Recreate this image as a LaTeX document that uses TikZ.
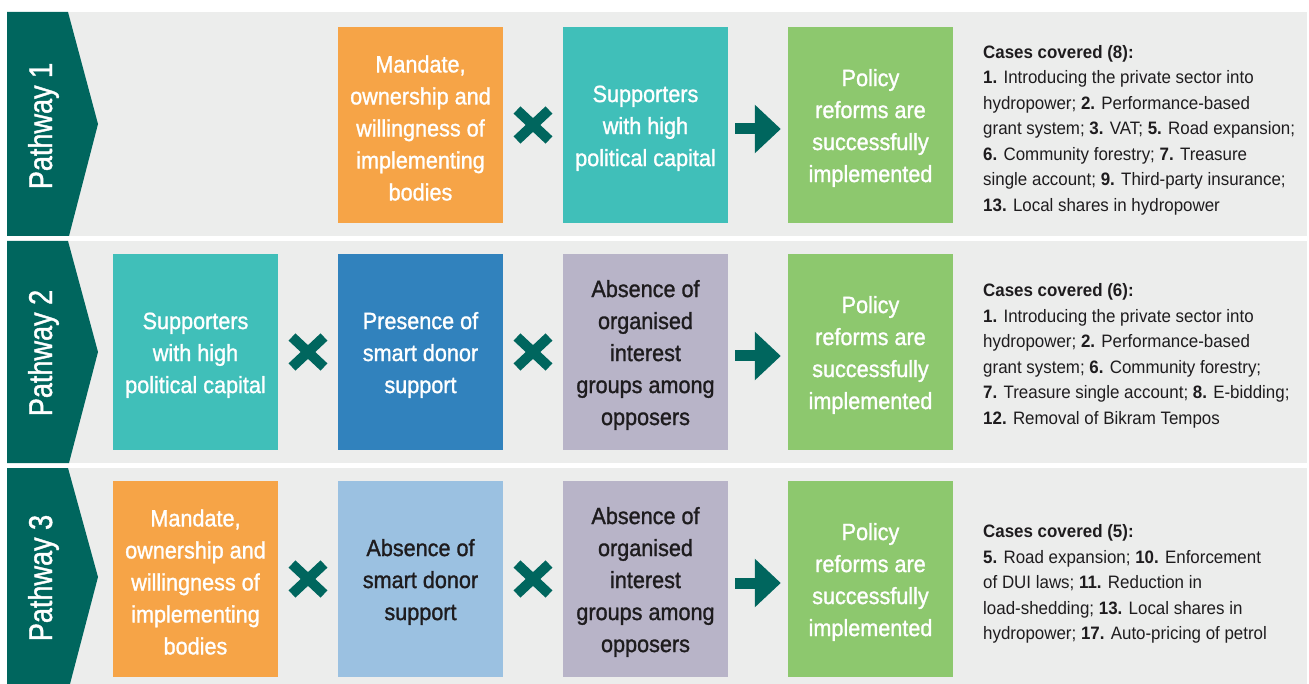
\documentclass[tikz,border=0pt]{standalone}
\usepackage{fontspec}
\setmainfont{Liberation Sans}[FakeStretch=0.94]
\newfontfamily\boxfont{Liberation Sans}[FakeStretch=0.92,FakeBold=1.2]
\newfontfamily\tabfont{Liberation Sans}[FakeStretch=0.82,FakeBold=1.2]
\usetikzlibrary{arrows.meta,calc}
\definecolor{bandgray}{RGB}{236,237,236}
\definecolor{darkteal}{RGB}{0,102,94}
\definecolor{boxorange}{RGB}{246,164,71}
\definecolor{boxteal}{RGB}{64,191,185}
\definecolor{boxgreen}{RGB}{141,200,110}
\definecolor{boxblue}{RGB}{49,130,189}
\definecolor{boxlightblue}{RGB}{155,193,225}
\definecolor{boxpurple}{RGB}{184,180,200}
\definecolor{textdark}{RGB}{30,28,30}
\newcommand{\boxtop}{\rule{0pt}{23pt}}
\tikzset{timesmark/.pic={\draw[darkteal,line width=10pt](-16,-15)--(16,15)(-16,15)--(16,-15);}}
\begin{document}
\begin{tikzpicture}[x=1pt,y=-1pt,
  box/.style={minimum width=165pt,minimum height=196pt,inner sep=0pt,align=center,text=white,font=\boxfont\fontsize{23.5}{32}\selectfont},
  tablabel/.style={anchor=base,rotate=90,inner sep=0pt,text=white,font=\tabfont\fontsize{33}{33}\selectfont},
  cases/.style={anchor=west,align=left,inner sep=0pt,text=textdark,font=\fontsize{18}{25.5}\selectfont},
  go/.style={draw=darkteal,line width=11pt,-{Triangle[width=47pt,length=26pt]},shorten <=7pt,shorten >=7pt}]
\useasboundingbox(0,0)rectangle(1309,684);
% bands and tabs
\fill[bandgray](7,12)rectangle(1307,236);
\fill[bandgray](7,241)rectangle(1307,463);
\fill[bandgray](7,468)rectangle(1307,684);
\fill[darkteal](7,12)--(68,12)--(98,124)--(69,236)--(7,236)--cycle;
\fill[darkteal](7,241)--(68,241)--(98,352)--(69,463)--(7,463)--cycle;
\fill[darkteal](7,468)--(68,468)--(98,577)--(70,684)--(7,684)--cycle;
\node[tablabel](t1) at (52,126){Pathway 1};
\node[tablabel](t2) at (52,353){Pathway 2};
\node[tablabel](t3) at (52,578){Pathway 3};
% pathway 1
\node[box,fill=boxorange](m1) at (420.5,125){\boxtop Mandate,\\ownership and\\willingness of\\implementing\\bodies};
\node[box,fill=boxteal](s1) at (645.5,125){\boxtop Supporters\\with high\\political capital};
\node[box,fill=boxgreen](p1) at (870.5,125){\boxtop Policy\\reforms are\\successfully\\implemented};
\pic at ($(m1.east)!0.5!(s1.west)$){timesmark};
\draw[go]([yshift=-4pt]s1.east)--([yshift=-4pt]p1.west);
\node[cases](c1) at (983,130){\textbf{Cases covered (8):}\\
\textbf{1.} Introducing the private sector into\\
hydropower; \textbf{2.} Performance-based\\
grant system; \textbf{3.} VAT; \textbf{5.} Road expansion;\\
\textbf{6.} Community forestry; \textbf{7.} Treasure\\
single account; \textbf{9.} Third-party insurance;\\
\textbf{13.} Local shares in hydropower};
% pathway 2
\node[box,fill=boxteal](s2) at (195.5,352){\boxtop Supporters\\with high\\political capital};
\node[box,fill=boxblue](d2) at (420.5,352){\boxtop Presence of\\smart donor\\support};
\node[box,fill=boxpurple,text=textdark](o2) at (645.5,352){\boxtop Absence of\\organised\\interest\\groups among\\opposers};
\node[box,fill=boxgreen](p2) at (870.5,352){\boxtop Policy\\reforms are\\successfully\\implemented};
\pic at ($(s2.east)!0.5!(d2.west)$){timesmark};
\pic at ($(d2.east)!0.5!(o2.west)$){timesmark};
\draw[go]([yshift=-4pt]o2.east)--([yshift=-4pt]p2.west);
\node[cases](c2) at (983,356){\textbf{Cases covered (6):}\\
\textbf{1.} Introducing the private sector into\\
hydropower; \textbf{2.} Performance-based\\
grant system; \textbf{6.} Community forestry;\\
\textbf{7.} Treasure single account; \textbf{8.} E-bidding;\\
\textbf{12.} Removal of Bikram Tempos};
% pathway 3
\node[box,fill=boxorange](m3) at (195.5,579){\boxtop Mandate,\\ownership and\\willingness of\\implementing\\bodies};
\node[box,fill=boxlightblue,text=textdark](d3) at (420.5,579){\boxtop Absence of\\smart donor\\support};
\node[box,fill=boxpurple,text=textdark](o3) at (645.5,579){\boxtop Absence of\\organised\\interest\\groups among\\opposers};
\node[box,fill=boxgreen](p3) at (870.5,579){\boxtop Policy\\reforms are\\successfully\\implemented};
\pic at ($(m3.east)!0.5!(d3.west)$){timesmark};
\pic at ($(d3.east)!0.5!(o3.west)$){timesmark};
\draw[go]([yshift=-4pt]o3.east)--([yshift=-4pt]p3.west);
\node[cases](c3) at (983,584){\textbf{Cases covered (5):}\\
\textbf{5.} Road expansion; \textbf{10.} Enforcement\\
of DUI laws; \textbf{11.} Reduction in\\
load-shedding; \textbf{13.} Local shares in\\
hydropower; \textbf{17.} Auto-pricing of petrol};
\end{tikzpicture}
\end{document}
